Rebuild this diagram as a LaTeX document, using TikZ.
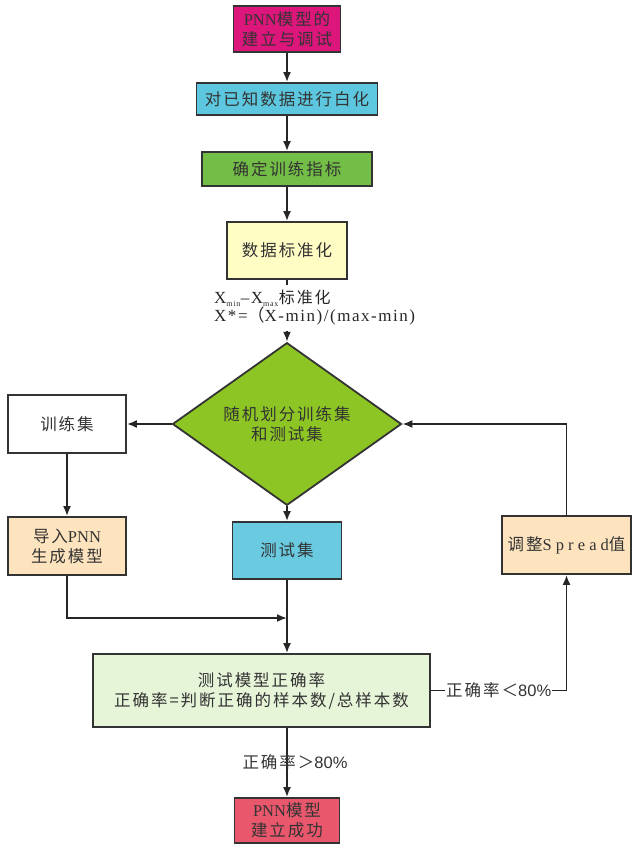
\documentclass[tikz,border=0pt]{standalone}
\usepackage{fontspec}
\setmainfont{Noto Sans CJK SC}[LetterSpace=12]
\newfontfamily\romfont{Liberation Serif}
\newfontfamily\romsp{Liberation Serif}[LetterSpace=25]
\newfontfamily\fmlfont{Liberation Serif}[LetterSpace=9]
\newfontfamily\numfont{Liberation Sans}
\usetikzlibrary{positioning,shapes.geometric,arrows.meta}
\definecolor{cTop}{RGB}{221,22,124}
\definecolor{cWhite}{RGB}{92,199,222}
\definecolor{cIndex}{RGB}{115,190,70}
\definecolor{cStd}{RGB}{255,252,196}
\definecolor{cSplit}{RGB}{141,198,36}
\definecolor{cBeige}{RGB}{253,228,190}
\definecolor{cTest}{RGB}{105,202,224}
\definecolor{cAcc}{RGB}{230,244,216}
\definecolor{cEnd}{RGB}{232,87,107}

\begin{document}
\begin{tikzpicture}[x=1pt,y=-1pt,
    font=\fontsize{16.5}{20}\selectfont,
    box/.style={draw=black!80, line width=1.8pt, align=center, inner sep=0pt, text=black!80},
    line/.style={line width=1.8pt, draw=black!85},
    link/.style={line, -{Latex[length=10pt,width=8pt]}}]
\useasboundingbox (0,0) rectangle (638,853);

\node[box, fill=cTop, minimum width=107pt, minimum height=46pt] (start) at (287,29) {{\romfont PNN}模型的\\建立与调试};
\node[box, fill=cWhite, minimum width=181pt, minimum height=32pt] (white) at (287,99) {对已知数据进行白化};
\node[box, fill=cIndex, minimum width=170pt, minimum height=34pt] (index) at (287,169) {确定训练指标};
\node[box, fill=cStd, minimum width=120pt, minimum height=57pt] (stdz) at (287,250.5) {数据标准化};
\node[anchor=west, align=left, inner xsep=0pt, inner ysep=5pt, text=black!85,
      font=\fontsize{17}{18}\selectfont] (norm) at (214,308)
      {{\fmlfont X\textsubscript{\fontsize{8}{8}\selectfont min}–X\textsubscript{\fontsize{8}{8}\selectfont max}}{\fontsize{16}{18}\selectfont 标准化}\\{\fmlfont X*=}（{\fmlfont X-min)/(max-min)}};
\node[diamond, box, fill=cSplit, minimum width=229pt, minimum height=127pt] (split) at (287,424) {随机划分训练集\\和测试集};

\node[box, fill=white, minimum width=118pt, minimum height=58pt] (train) at (67,424) {训练集};
\node[box, fill=cBeige, minimum width=118pt, minimum height=58pt] (import) at (67,546) {导入{\romfont PNN}\\生成模型};
\node[box, fill=cTest, minimum width=109pt, minimum height=57pt] (test) at (287,550.5) {测试集};
\node[box, fill=cBeige, minimum width=129pt, minimum height=58pt] (spread) at (566.5,545) {调整{\romsp Spread}值};
\coordinate (merge) at (287,618);

\node[box, fill=cAcc, minimum width=337pt, minimum height=73pt] (acc) at (261.5,690.5) {测试模型正确率\\正确率=判断正确的样本数/总样本数};
\node[box, fill=cEnd, minimum width=105pt, minimum height=45pt] (final) at (287,820.5) {{\romfont PNN}模型\\建立成功};

% main line
\draw[link] (start) -- (white);
\draw[link] (white) -- (index);
\draw[link] (index) -- (stdz);
\draw[line] (stdz) -- (stdz.south |- norm.north);
\draw[link] (stdz.south |- norm.south) -- (split);
% split into sets
\draw[link] (split) -- (train);
\draw[link] (train) -- (import);
\draw[link] (split) -- (test);
\draw[link] (import.south) |- (merge);
\draw[line] (test) -- (merge);
\draw[link] (merge) -- (merge |- acc.north);
% loop back
\draw[link] (acc.east) -- node[fill=white, inner sep=1pt, text=black!80]{正确率＜{\numfont 80\%}} (acc.east -| spread) -- (spread.south);
\draw[link] (spread.north) |- (split.east);
\draw[link] (final.north |- acc.south) -- node[xshift=8pt, text=black!80]{正确率＞{\numfont 80\%}} (final);
\end{tikzpicture}
\end{document}
